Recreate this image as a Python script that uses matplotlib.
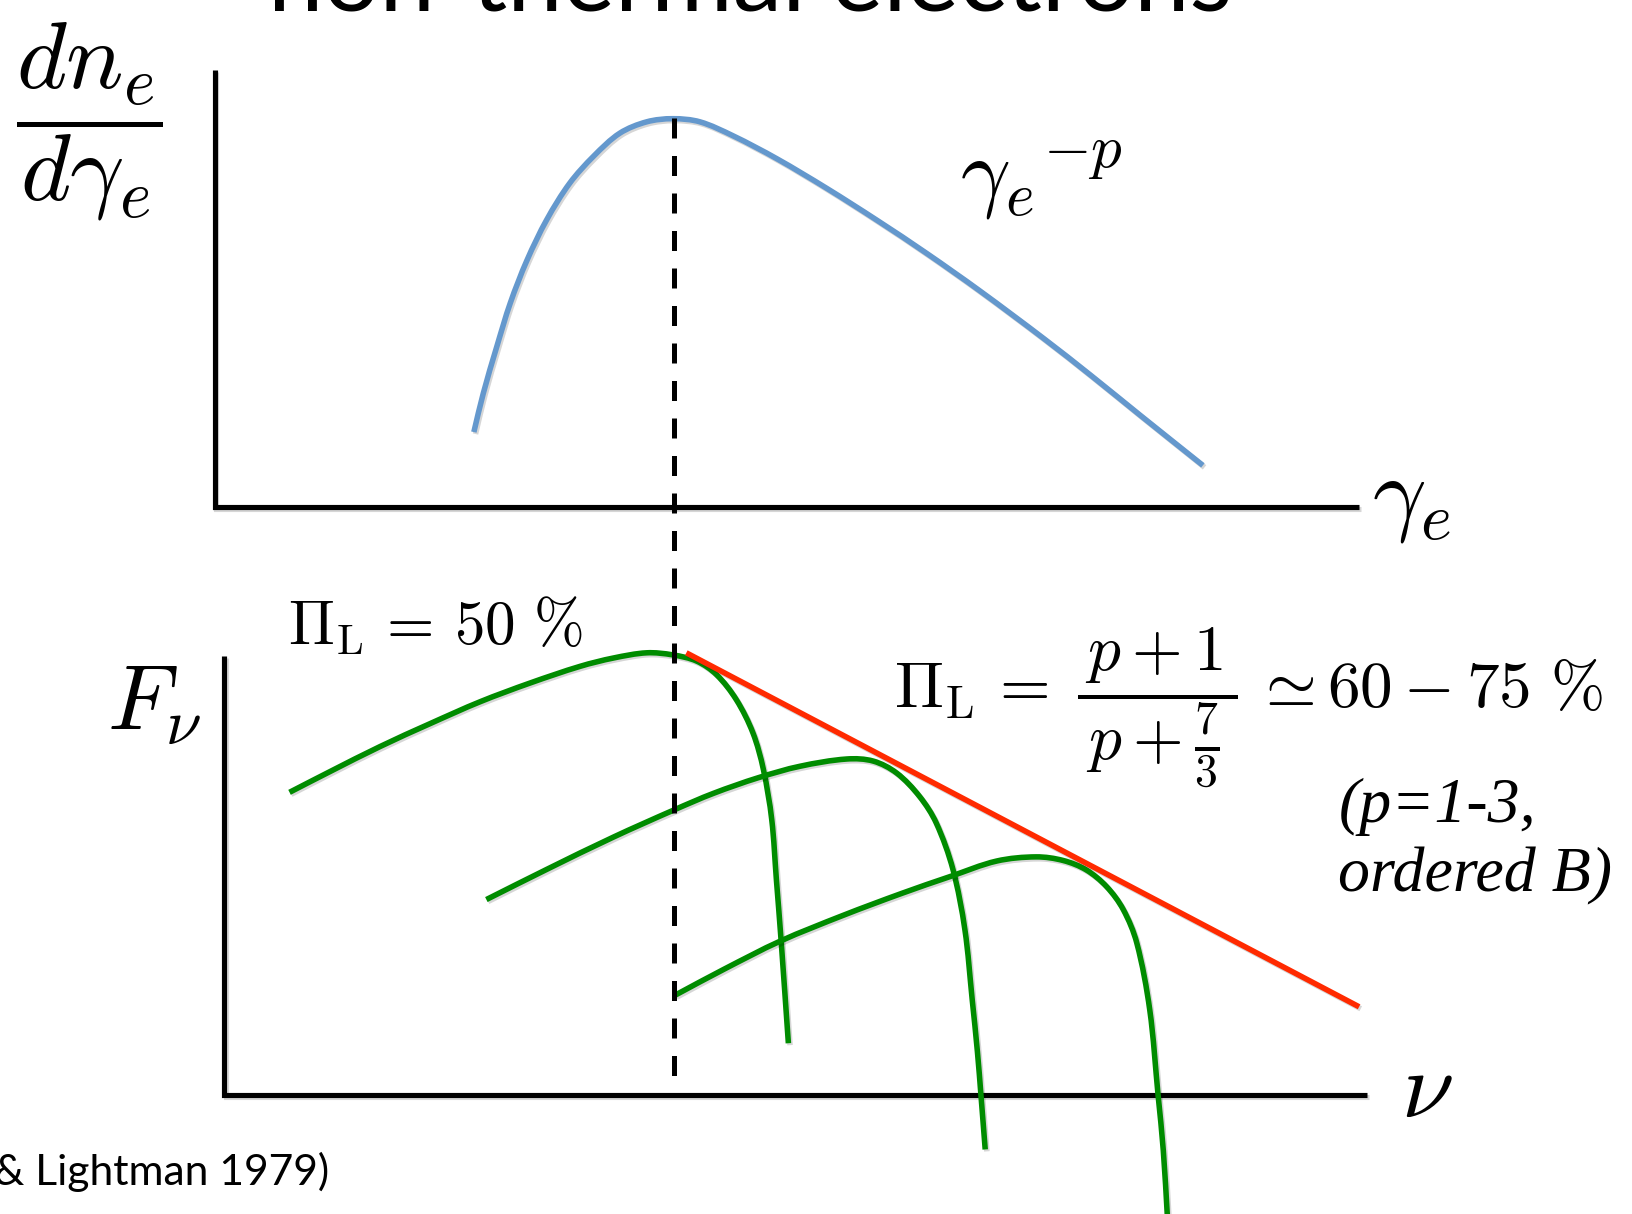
import numpy as np
import matplotlib
matplotlib.use("Agg")
import matplotlib.pyplot as plt
from matplotlib.path import Path
from matplotlib.patches import PathPatch
from matplotlib import font_manager
import matplotlib.patheffects as pe

plt.rcParams["mathtext.fontset"] = "cm"

# drawing units (figure is W x H units)
W, H = 1568, 1166

# upper panel: electron energy distribution
electron_x = [455, 464, 477, 490, 506, 525, 547, 570, 595, 621, 646, 672, 704,
              746, 794, 842, 890, 941, 1002, 1048, 1095, 1155]
electron_y = [415, 378, 333, 291, 250, 211, 176, 150, 128, 117, 114, 117, 130.5,
              152.5, 181, 211.5, 243.5, 279.5, 325, 361, 399, 447]

# lower panel: single-energy synchrotron spectra
spec1_x = [278, 317, 365, 413, 461, 509, 557, 589, 621, 646, 669, 688, 707,
           723, 733, 741, 745.5, 750, 757]
spec1_y = [761, 741, 717, 695, 674, 656, 640, 632, 627, 629, 635, 648, 672,
           704, 739, 787, 845, 903, 1002]
spec2_x = [467, 525, 589, 647, 685, 728, 768, 813, 838.5, 861, 883, 899,
           915, 926.5, 933.5, 938.5, 942, 946]
spec2_y = [864, 835, 804, 778, 762, 747, 736, 729, 731, 742.5, 765, 790.5,
           835, 893, 960, 1010, 1053, 1104]
spec3_x = [648, 695, 749, 810, 866, 912, 957, 995, 1021, 1043, 1062.5, 1078.5,
           1091.5, 1104, 1112, 1117, 1121]
spec3_y = [956, 931, 904, 879, 858, 842, 827, 823, 826.5, 835.5, 851.5, 873.5,
           905.5, 970, 1052, 1105, 1170]

# power-law envelope
envelope_x = [659, 1305]
envelope_y = [627, 967]

# axes frames and the peak marker
top_frame_x = [206, 206, 1305]
top_frame_y = [67, 487, 487]
bottom_frame_x = [215, 215, 1313]
bottom_frame_y = [630, 1052, 1052]
peak_x = [647, 647]
peak_y = [113, 1052]

BLUE = "#6498CD"
GREEN = "#008C00"
RED = "#FF2A00"

# the serif italic note needs a real Times-like face
font_manager.findfont(font_manager.FontProperties(family="Liberation Serif",
                                                  style="italic"),
                      fallback_to_default=False)


def smooth_path(xs, ys):
    """Chord-length Catmull-Rom curve through the points, as cubic Beziers."""
    p = np.column_stack([xs, ys]).astype(float)
    d = np.hypot(*np.diff(p, axis=0).T)
    t = np.concatenate([[0], np.cumsum(d)])
    n = len(p)
    m = np.zeros_like(p)
    m[0] = (p[1] - p[0]) / (t[1] - t[0])
    m[-1] = (p[-1] - p[-2]) / (t[-1] - t[-2])
    for i in range(1, n - 1):
        m[i] = (p[i + 1] - p[i - 1]) / (t[i + 1] - t[i - 1])
    verts = [p[0]]
    codes = [Path.MOVETO]
    for i in range(n - 1):
        h = t[i + 1] - t[i]
        verts += [p[i] + m[i] * h / 3, p[i + 1] - m[i + 1] * h / 3, p[i + 1]]
        codes += [Path.CURVE4] * 3
    return Path(verts, codes)


shadow = [pe.SimpleLineShadow(offset=(1.2, -1.4), shadow_color="k", alpha=0.16),
          pe.Normal()]

fig = plt.figure(figsize=(16.33, 12.14), dpi=100)
ax = fig.add_axes([0, 0, 1, 1])
ax.set_xlim(0, W)
ax.set_ylim(H, 0)
ax.axis("off")

# frames
for fx, fy in [(top_frame_x, top_frame_y), (bottom_frame_x, bottom_frame_y)]:
    ax.plot(fx, fy, color="black", lw=3.7, solid_joinstyle="miter",
            solid_capstyle="butt", path_effects=shadow, zorder=2)

# dashed line through the distribution peak
ax.plot(peak_x, peak_y, color="black", lw=3.6, dashes=(4.0, 3.5),
        dash_capstyle="butt", zorder=4)


def draw_curve(xs, ys, color, lw=4.0, z=3):
    patch = PathPatch(smooth_path(xs, ys), fill=False, edgecolor=color, lw=lw,
                      capstyle="butt", joinstyle="round", zorder=z,
                      path_effects=shadow)
    ax.add_patch(patch)


draw_curve(electron_x, electron_y, BLUE)
draw_curve(spec1_x, spec1_y, GREEN)
draw_curve(spec2_x, spec2_y, GREEN)
draw_curve(spec3_x, spec3_y, GREEN)
ax.plot(envelope_x, envelope_y, color=RED, lw=4.0, solid_capstyle="butt",
        path_effects=shadow, zorder=3)

# labels
ax.text(86, 117, r"$\dfrac{dn_e}{d\gamma_e}$", fontsize=69, ha="center", va="center")
ax.text(1000, 173, r"${\gamma_e}^{-p}$", fontsize=63, ha="center", va="center")
ax.text(1355, 479, r"$\gamma_e$", fontsize=68, ha="center", va="center")
ax.text(148, 676, r"$F_\nu$", fontsize=66, ha="center", va="center")
ax.text(1370, 1048, r"$\nu$", fontsize=68, ha="center", va="center")
ax.text(277, 602, r"$\Pi_{\mathrm{L}}\, =\, 50\ \%$", fontsize=44, ha="left", va="center")
ax.text(858, 680,
        r"$\Pi_{\mathrm{L}}\,=\;\dfrac{\,p+1\,}{\,p+\frac{7}{3}\,}\,\simeq 60 - 75\ \%$",
        fontsize=47, ha="left", va="center")
serif_it = dict(fontsize=46, family=["Liberation Serif", "DejaVu Serif"],
                style="italic", ha="left", va="center")
ax.text(1285, 775, "(p=1-3,", **serif_it)
ax.text(1285, 842, "ordered B)", **serif_it)

# sans-serif texts sized to their widths
fig.canvas.draw()
renderer = fig.canvas.get_renderer()
px_per_unit = fig.bbox.width / W


def fitted_size(text, target_units, family="Lato"):
    probe = ax.text(0, 0, text, fontsize=40, family=family)
    w = probe.get_window_extent(renderer).width / px_per_unit
    probe.remove()
    return 40 * target_units / w


title = "non-thermal electrons"
ax.text(720, 10.5, title, fontsize=fitted_size(title, 925), family="Lato",
        ha="center", va="baseline")

cite_tail = "& Lightman 1979)"
ax.text(316, 1138, "(Rybicki & Lightman 1979)",
        fontsize=fitted_size(cite_tail, 322), family="Lato",
        ha="right", va="baseline")

fig.savefig("out.png", dpi=100)
